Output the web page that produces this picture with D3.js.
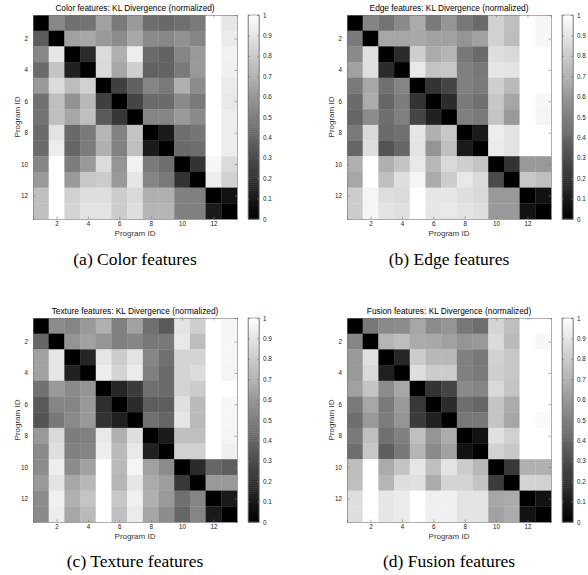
<!DOCTYPE html>
<html lang="en">

<head>
    <meta charset="UTF-8">
    <title>KL Divergence</title>
    <script src="https://d3js.org/d3.v7.min.js"></script>
    <style>
        body { margin: 0; background: #fff; }
        svg text { font-family: "Liberation Sans", Arial, sans-serif; }
        .caption { font-family: "Liberation Serif", "Times New Roman", serif !important; font-size: 17.5px; }
        .axis path, .axis line { stroke: #777; stroke-width: 0.6; }
        .axis text { font-size: 6.3px; fill: #222; }
    </style>
</head>

<body>
    <script>
        var programIds = d3.range(1, 14);
        var axisTicks = [2, 4, 6, 8, 10, 12];
        var barTicks = [0, 0.1, 0.2, 0.3, 0.4, 0.5, 0.6, 0.7, 0.8, 0.9, 1];

        // values (row = program, column = program)
        var colorKL = [
            [0, .53, .44, .45, .63, .48, .60, .43, .41, .44, .48, 1, .90],
            [.36, 0, .63, .66, .60, .55, .66, .54, .53, .57, .52, 1, .92],
            [.53, .90, 0, .17, .86, .69, .93, .42, .39, .52, .60, 1, .95],
            [.42, .77, .13, 0, .85, .65, .81, .39, .39, .48, .60, 1, .94],
            [.60, .86, .74, .82, 0, .25, .38, .52, .48, .69, .55, 1, .92],
            [.44, .75, .57, .72, .25, 0, .27, .42, .42, .54, .48, 1, .91],
            [.45, .75, .65, .75, .35, .21, 0, .52, .52, .60, .54, 1, .93],
            [.42, .89, .41, .48, .71, .51, .77, 0, .10, .43, .46, 1, .93],
            [.42, .93, .40, .49, .69, .51, .75, .10, 0, .42, .43, 1, .93],
            [.52, 1, .49, .60, .86, .58, .95, .48, .43, 0, .20, .97, .86],
            [.60, 1, .60, .78, .80, .60, .90, .52, .48, .20, 0, .93, .82],
            [.75, 1, .82, .87, .87, .80, .85, .69, .69, .50, .50, 0, .07],
            [.75, 1, .83, .89, .89, .80, .87, .71, .71, .50, .50, .10, 0]
        ];
        var edgeKL = [
            [0, .52, .45, .54, .67, .48, .58, .47, .42, .82, .75, 1, .97],
            [.48, 0, .65, .65, .66, .63, .63, .58, .63, .82, .74, 1, .97],
            [.54, .88, 0, .17, .81, .67, .71, .47, .42, .87, .85, 1, 1],
            [.63, .88, .17, 0, .91, .77, .78, .50, .47, .90, .89, 1, 1],
            [.48, .65, .44, .52, 0, .20, .27, .50, .48, .81, .73, 1, 1],
            [.42, .67, .40, .49, .20, 0, .17, .48, .44, .78, .65, 1, .97],
            [.40, .55, .43, .50, .27, .13, 0, .50, .48, .77, .60, 1, .96],
            [.48, .85, .42, .44, .90, .69, .78, 0, .10, .93, .89, 1, 1],
            [.40, .87, .33, .40, .89, .58, .75, .10, 0, .92, .89, 1, 1],
            [.69, 1, .69, .77, .91, .72, .85, .81, .77, 0, .20, .60, .60],
            [.65, 1, .75, .87, .96, .67, .80, .91, .86, .29, 0, .78, .75],
            [.80, .96, .87, .86, 1, .90, .90, .87, .85, .60, .60, 0, .07],
            [.80, .96, .89, .88, 1, .90, .91, .89, .87, .60, .60, .07, 0]
        ];
        var textureKL = [
            [0, .55, .52, .60, .69, .50, .63, .44, .35, .89, .81, 1, .96],
            [.40, 0, .58, .63, .58, .50, .52, .47, .47, .91, .74, 1, .97],
            [.63, .90, 0, .15, .90, .80, .89, .52, .44, .83, .83, 1, .97],
            [.63, .90, .13, 0, .93, .83, .92, .50, .42, .83, .86, 1, .96],
            [.44, .60, .54, .58, 0, .15, .23, .44, .42, .83, .80, 1, 1],
            [.35, .52, .52, .60, .18, 0, .17, .37, .37, .88, .73, 1, .97],
            [.33, .47, .54, .60, .20, .12, 0, .44, .40, .90, .73, 1, .97],
            [.60, .85, .49, .50, .91, .69, .87, 0, .10, .75, .75, 1, .96],
            [.54, .87, .50, .52, .93, .73, .91, .13, 0, .82, .82, 1, .94],
            [.55, .93, .55, .63, 1, .73, .96, .63, .55, 0, .17, .40, .37],
            [.60, .89, .65, .72, 1, .71, .90, .67, .62, .22, 0, .60, .60],
            [.55, .94, .69, .77, 1, .78, .94, .69, .60, .44, .52, 0, .10],
            [.54, .93, .65, .73, 1, .75, .92, .65, .55, .40, .52, .10, 0]
        ];
        var fusionKL = [
            [0, .47, .54, .55, .65, .55, .58, .47, .43, .83, .75, 1, 1],
            [.52, 0, .71, .74, .67, .66, .63, .58, .60, .86, .73, 1, .97],
            [.60, .88, 0, .15, .80, .72, .72, .50, .47, .82, .78, 1, 1],
            [.60, .85, .12, 0, .87, .80, .80, .50, .48, .81, .78, 1, 1],
            [.63, .77, .55, .65, 0, .20, .27, .54, .52, .85, .77, 1, 1],
            [.48, .65, .48, .60, .22, 0, .17, .43, .40, .77, .67, 1, 1],
            [.43, .60, .49, .58, .23, .13, 0, .47, .47, .77, .65, 1, .98],
            [.48, .75, .44, .50, .75, .58, .67, 0, .07, .88, .82, 1, 1],
            [.43, .78, .37, .47, .71, .54, .63, .07, 0, .82, .78, 1, 1],
            [.74, 1, .67, .77, .90, .75, .89, .80, .72, 0, .22, .69, .69],
            [.75, 1, .71, .87, .88, .67, .83, .83, .77, .23, 0, .83, .82],
            [.87, 1, .90, .92, 1, .94, .94, .89, .89, .65, .67, 0, .07],
            [.87, 1, .90, .92, 1, .94, .94, .89, .89, .63, .67, .07, 0]
        ];

        var titles = ["Color features", "Edge features", "Texture features", "Fusion features"];
        var captions = ["(a)  Color features", "(b)  Edge features", "(c)  Texture features", "(d)  Fusion features"];

        var width = 588,
            height = 575,
            size = 204;    // heatmap side in px

        // panel origins (top-left of the heatmap) and caption baselines
        var panels = [
            { m: colorKL, x: 33, y: 15, cap: 265 },
            { m: edgeKL, x: 347, y: 15, cap: 265 },
            { m: textureKL, x: 33, y: 318, cap: 567 },
            { m: fusionKL, x: 347, y: 318, cap: 567 }
        ];

        var svg = d3.select("body").append("svg")
            .attr("width", width)
            .attr("height", height);

        var grey = d3.scaleLinear().domain([0, 1]).range(["#000", "#fff"]);
        var band = d3.scaleBand().domain(programIds).range([0, size]);
        var pos = d3.scaleLinear().domain([0.5, 13.5]).range([0, size]);
        var barY = d3.scaleLinear().domain([0, 1]).range([size, 0]);

        panels.forEach(function (p, k) {
            var g = svg.append("g").attr("transform", "translate(" + p.x + "," + p.y + ")");

            var cells = [];
            p.m.forEach(function (row, i) {
                row.forEach(function (v, j) {
                    cells.push({ r: programIds[i], c: programIds[j], v: v });
                });
            });

            g.selectAll("rect.cell").data(cells).enter().append("rect")
                .attr("class", "cell")
                .attr("x", function (d) { return band(d.c); })
                .attr("y", function (d) { return band(d.r); })
                .attr("width", band.bandwidth() + 0.3)
                .attr("height", band.bandwidth() + 0.3)
                .attr("fill", function (d) { return grey(d.v); });

            // matlab style inward ticks on all four sides
            g.append("g").attr("class", "axis")
                .attr("transform", "translate(0," + size + ")")
                .call(d3.axisBottom(pos).tickValues(axisTicks).tickSize(-2.5).tickPadding(3));
            g.append("g").attr("class", "axis")
                .call(d3.axisTop(pos).tickValues(axisTicks).tickSize(-2.5).tickFormat(""));
            g.append("g").attr("class", "axis")
                .call(d3.axisLeft(pos).tickValues(axisTicks).tickSize(-2.5).tickPadding(5));
            g.append("g").attr("class", "axis")
                .attr("transform", "translate(" + size + ",0)")
                .call(d3.axisRight(pos).tickValues(axisTicks).tickSize(-2.5).tickFormat(""));

            g.append("text")
                .attr("x", size / 2).attr("y", -4)
                .attr("text-anchor", "middle")
                .style("font-size", "8.3px")
                .text(titles[k] + ": KL Divergence (normalized)");

            g.append("text")
                .attr("x", size / 2).attr("y", size + 17)
                .attr("text-anchor", "middle")
                .style("font-size", "8px")
                .style("fill", "#333")
                .text("Program ID");

            g.append("text")
                .attr("transform", "translate(-13," + (size / 2) + ") rotate(-90)")
                .attr("text-anchor", "middle")
                .style("font-size", "8px")
                .style("fill", "#333")
                .text("Program ID");

            // colorbar
            var cb = g.append("g").attr("transform", "translate(215,0)");
            var steps = d3.range(0, 1.0001, 0.01);
            cb.selectAll("rect").data(steps).enter().append("rect")
                .attr("x", 0)
                .attr("y", function (d) { return barY(d) - size / 100; })
                .attr("width", 11)
                .attr("height", size / 100 + 0.5)
                .attr("fill", function (d) { return grey(d); });
            cb.append("g").attr("class", "axis")
                .attr("transform", "translate(11,0)")
                .call(d3.axisRight(barY).tickValues(barTicks).tickSize(-2).tickPadding(4)
                    .tickFormat(function (d) { return d === 0 || d === 1 ? d : d3.format(".1f")(d); }));
            cb.append("g").attr("class", "axis")
                .call(d3.axisLeft(barY).tickValues(barTicks).tickSize(-2).tickFormat(""));
            cb.append("rect")
                .attr("width", 11).attr("height", size)
                .attr("fill", "none").attr("stroke", "#777").attr("stroke-width", 0.6);

            svg.append("text")
                .attr("class", "caption")
                .attr("x", p.x + 102).attr("y", p.cap)
                .attr("text-anchor", "middle")
                .text(captions[k]);
        });
    </script>
</body>

</html>
